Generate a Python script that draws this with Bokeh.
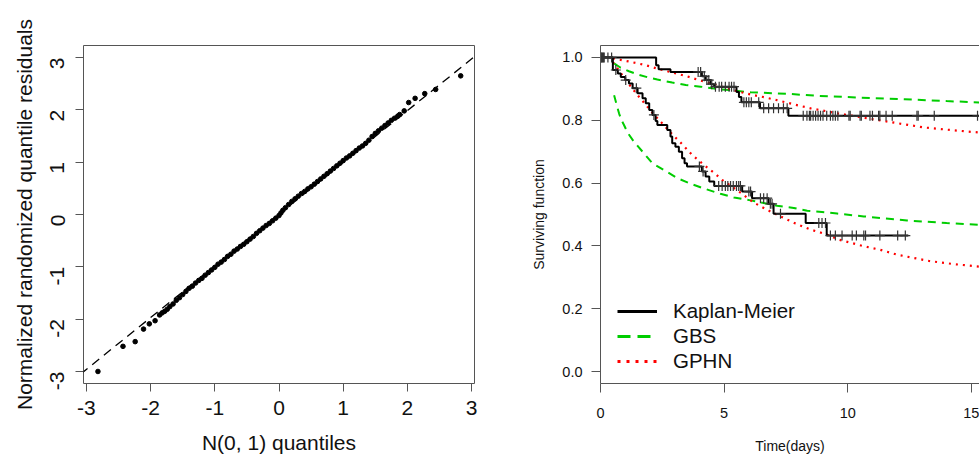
import math
import numpy as np
from bokeh.plotting import figure
from bokeh.layouts import row
from bokeh.models import FixedTicker, Range1d, Legend, LegendItem, LinearAxis, Slope
from bokeh.embed import file_html
from bokeh.resources import INLINE

FONT = "Liberation Sans"
FRAME = "#555555"
TXT = "#111111"

# ---------------- left panel: QQ plot of residuals ----------------
qq_theoretical = [-2.82, -2.43, -2.24, -2.11, -2.02, -1.93, -1.86, -1.82, -1.78, -1.74,
                  -1.70, -1.65, -1.60, -1.55, -1.50, -1.45, -1.40, -1.35, -1.30, -1.25,
                  -1.20, -1.15, -1.10, -1.05, -1.00, -0.95, -0.90, -0.85, -0.80, -0.75,
                  -0.70, -0.65, -0.60, -0.55, -0.50, -0.45, -0.40, -0.35, -0.30, -0.25,
                  -0.20, -0.15, -0.10, -0.05, 0.00, 0.03, 0.06, 0.10, 0.15, 0.20,
                  0.25, 0.30, 0.35, 0.40, 0.45, 0.50, 0.55, 0.60, 0.65, 0.70,
                  0.75, 0.80, 0.85, 0.90, 0.95, 1.00, 1.05, 1.10, 1.15, 1.20,
                  1.25, 1.30, 1.35, 1.40, 1.45, 1.50, 1.55, 1.60, 1.65, 1.70,
                  1.75, 1.80, 1.85, 1.88, 1.95, 2.02, 2.12, 2.27, 2.44, 2.83]
qq_residual = [-3.00, -2.52, -2.43, -2.19, -2.09, -2.03, -1.92, -1.88, -1.85, -1.81,
               -1.76, -1.71, -1.64, -1.59, -1.53, -1.47, -1.41, -1.37, -1.31, -1.26,
               -1.22, -1.16, -1.11, -1.06, -1.01, -0.95, -0.91, -0.86, -0.80, -0.76,
               -0.70, -0.66, -0.61, -0.57, -0.52, -0.47, -0.42, -0.36, -0.31, -0.26,
               -0.21, -0.17, -0.12, -0.07, -0.02, 0.03, 0.08, 0.13, 0.19, 0.25,
               0.30, 0.35, 0.40, 0.44, 0.49, 0.53, 0.58, 0.63, 0.68, 0.73,
               0.78, 0.83, 0.88, 0.93, 0.98, 1.03, 1.08, 1.12, 1.17, 1.22,
               1.27, 1.31, 1.36, 1.42, 1.49, 1.55, 1.60, 1.65, 1.70, 1.75,
               1.80, 1.84, 1.88, 1.91, 1.98, 2.14, 2.22, 2.31, 2.39, 2.65]
qqline_slope = 0.989
qqline_intercept = 0.007
left_ticks = [-3, -2, -1, 0, 1, 2, 3]
left_tick_labels = ["-3", "-2", "-1", "0", "1", "2", "3"]

# ---------------- right panel: survival curves ----------------
km_upper_t = [0, 2.25, 2.35, 2.83, 4.1, 4.25, 4.45, 4.6, 5.5, 5.6, 5.7, 6.45, 7.6, 15.6]
km_upper_s = [1.0, 0.975, 0.962, 0.954, 0.94, 0.928, 0.915, 0.907, 0.89, 0.874, 0.857, 0.838, 0.814, 0.814]
km_lower_t = [0, 0.5, 0.7, 0.82, 1.0, 1.15, 1.3, 1.5, 1.7, 1.83, 1.97, 2.1, 2.23, 2.3, 2.7,
              2.83, 2.9, 3.03, 3.17, 3.3, 3.4, 3.5, 4.1, 4.25, 4.4, 4.6, 5.73, 6.13, 6.8,
              7.0, 8.3, 9.15, 12.45]
km_lower_s = [1.0, 0.96, 0.949, 0.938, 0.928, 0.917, 0.902, 0.886, 0.87, 0.854, 0.833, 0.817,
              0.798, 0.785, 0.769, 0.748, 0.727, 0.716, 0.70, 0.679, 0.663, 0.653, 0.637,
              0.621, 0.605, 0.591, 0.573, 0.552, 0.534, 0.502, 0.473, 0.433, 0.433]
cens_upper = [0.03, 0.08, 0.15, 0.3, 3.95, 4.05, 4.2, 4.3, 4.38, 4.5, 4.65, 4.8, 4.9, 5.05,
              5.2, 5.3, 5.4, 5.8, 5.9, 6.0, 6.1, 6.4, 6.6, 6.8, 7.0, 7.2, 7.4, 7.55, 8.2,
              8.35, 8.45, 8.5, 8.6, 8.7, 8.8, 8.9, 9.0, 9.15, 9.3, 9.4, 9.5, 9.6, 10.05,
              10.1, 10.5, 10.55, 10.9, 11.0, 11.25, 11.3, 11.55, 11.8, 12.8, 12.85, 13.5, 15.25]
cens_lower = [0.05, 0.12, 0.45, 0.62, 1.02, 1.45, 2.16, 4.0, 4.15, 4.78, 4.92, 5.05, 5.15,
              5.26, 5.37, 5.5, 5.59, 5.66, 6.0, 6.07, 6.47, 6.6, 6.74, 6.87, 6.94, 7.28,
              8.83, 8.96, 9.1, 9.3, 9.5, 9.77, 10.18, 10.35, 10.65, 10.72, 11.3, 12.02, 12.33]

gbs_upper_t = [0.55, 0.8, 1.15, 1.5, 1.9, 2.3, 2.9, 3.45, 4.05, 4.7, 5.2, 6.07, 7.0, 7.6,
               8.76, 10.5, 12.3, 14.0, 15.6]
gbs_upper_s = [0.981, 0.968, 0.956, 0.946, 0.937, 0.930, 0.920, 0.912, 0.907, 0.900, 0.896,
               0.889, 0.886, 0.884, 0.878, 0.872, 0.867, 0.861, 0.856]
gbs_lower_t = [0.55, 0.65, 0.75, 0.85, 0.95, 1.1, 1.35, 1.7, 2.1, 2.56, 3.1, 3.64, 4.25,
               4.85, 5.4, 6.07, 7.14, 7.82, 8.36, 8.96, 9.57, 10.65, 12.4, 14.0, 15.6]
gbs_lower_s = [0.88, 0.85, 0.822, 0.80, 0.785, 0.76, 0.732, 0.70, 0.663, 0.642, 0.616, 0.598,
               0.581, 0.566, 0.554, 0.545, 0.528, 0.521, 0.512, 0.508, 0.503, 0.494, 0.481,
               0.473, 0.466]
gphn_upper_t = [0.5, 1.15, 1.8, 2.4, 2.9, 3.5, 3.9, 4.5, 5.0, 5.5, 6.07, 6.7, 7.3, 7.9, 8.5,
                9.6, 10.8, 11.9, 13.1, 14.3, 15.6]
gphn_upper_s = [0.997, 0.987, 0.976, 0.962, 0.952, 0.940, 0.930, 0.916, 0.905, 0.893, 0.882,
                0.872, 0.861, 0.849, 0.838, 0.822, 0.806, 0.792, 0.777, 0.768, 0.759]
gphn_lower_t = [0.5, 0.75, 1.0, 1.25, 1.5, 1.9, 2.16, 2.5, 2.83, 3.3, 3.7, 4.18, 4.65, 4.92,
                5.6, 6.2, 6.74, 7.28, 7.89, 8.49, 9.1, 9.64, 10.65, 11.3, 12.0, 13.3, 14.3, 15.6]
gphn_lower_s = [0.985, 0.958, 0.93, 0.905, 0.88, 0.843, 0.818, 0.79, 0.761, 0.724, 0.69, 0.658,
                0.629, 0.61, 0.573, 0.538, 0.515, 0.494, 0.471, 0.452, 0.438, 0.42, 0.399,
                0.388, 0.372, 0.352, 0.342, 0.332]
right_xticks = [0, 5, 10, 15]
right_yticks = [0.0, 0.2, 0.4, 0.6, 0.8, 1.0]
legend_labels = ["Kaplan-Meier", "GBS", "GPHN"]

GREEN = "#00CD00"
RED = "#FF0000"


def style_axis(ax, size, tick_len):
    ax.axis_line_color = None
    ax.major_tick_line_color = FRAME
    ax.major_tick_out = tick_len
    ax.major_tick_in = 0
    ax.minor_tick_line_color = None
    ax.major_label_text_font = FONT
    ax.major_label_text_font_size = size
    ax.major_label_text_color = TXT
    ax.axis_label_text_font = FONT
    ax.axis_label_text_font_style = "normal"
    ax.axis_label_text_color = TXT


# ---- left figure
p1 = figure(width=528, height=456, output_backend="svg", toolbar_location=None,
            x_range=Range1d(-3.045, 3.045), y_range=Range1d(-3.23, 3.23),
            min_border_left=83, min_border_right=54, min_border_top=45, min_border_bottom=72)
p1.grid.visible = False
p1.outline_line_color = FRAME
p1.outline_line_width = 1
p1.background_fill_color = "white"
p1.border_fill_color = "white"
p1.add_layout(Slope(gradient=qqline_slope, y_intercept=qqline_intercept,
                    line_color="black", line_width=1.3, line_dash="9 6"))
p1.scatter(qq_theoretical, qq_residual, size=4.6, color="black")
for ax in (p1.xaxis[0], p1.yaxis[0]):
    style_axis(ax, "21px", 8)
    ax.ticker = FixedTicker(ticks=left_ticks)
    ax.major_label_overrides = dict(zip(left_ticks, left_tick_labels))
p1.xaxis[0].axis_label = "N(0, 1) quantiles"
p1.xaxis[0].axis_label_text_font_size = "21px"
p1.xaxis[0].major_label_standoff = 9
p1.xaxis[0].axis_label_standoff = 13
p1.yaxis[0].axis_label = "Normalized randomized quantile residuals"
p1.yaxis[0].axis_label_text_font_size = "21px"
p1.yaxis[0].major_label_orientation = math.pi / 2
p1.yaxis[0].major_label_standoff = 18
p1.yaxis[0].axis_label_standoff = 5

# ---- right figure
p2 = figure(width=451, height=456, output_backend="svg", toolbar_location=None,
            x_range=Range1d(0, 15.33), y_range=Range1d(-0.038, 1.038),
            min_border_left=72, min_border_right=0, min_border_top=45, min_border_bottom=72)
p2.grid.visible = False
p2.outline_line_color = None
p2.background_fill_color = "white"
p2.border_fill_color = "white"

p2.line(gbs_upper_t, gbs_upper_s, line_color=GREEN, line_width=2, line_dash="8 6")
p2.line(gbs_lower_t, gbs_lower_s, line_color=GREEN, line_width=2, line_dash="8 6")
p2.line(gphn_upper_t, gphn_upper_s, line_color=RED, line_width=2.2, line_dash="2 5")
p2.line(gphn_lower_t, gphn_lower_s, line_color=RED, line_width=2.2, line_dash="2 5")
p2.step(km_upper_t, km_upper_s, mode="after", line_color="black", line_width=2)
p2.step(km_lower_t, km_lower_s, mode="after", line_color="black", line_width=2)


def surv_at(times, surv, pts):
    t = np.asarray(times)
    s = np.asarray(surv)
    idx = np.searchsorted(t, np.asarray(pts), side="right") - 1
    return s[idx]


p2.scatter(cens_upper, surv_at(km_upper_t, km_upper_s, cens_upper), marker="cross",
           size=10, line_color="#333333", line_width=1.2)
p2.scatter(cens_lower, surv_at(km_lower_t, km_lower_s, cens_lower), marker="cross",
           size=10, line_color="#333333", line_width=1.2)

for ax in (p2.xaxis[0], p2.yaxis[0]):
    style_axis(ax, "14.5px", 9)
    ax.axis_line_color = FRAME
p2.xaxis[0].ticker = FixedTicker(ticks=right_xticks)
p2.yaxis[0].ticker = FixedTicker(ticks=right_yticks)
p2.yaxis[0].major_label_overrides = {v: f"{v:.1f}" for v in right_yticks}
p2.xaxis[0].axis_label = "Time(days)"
p2.xaxis[0].axis_label_text_font_size = "14px"
p2.xaxis[0].major_label_standoff = 15
p2.xaxis[0].axis_label_standoff = 17
p2.yaxis[0].axis_label = "Surviving function"
p2.yaxis[0].axis_label_text_font_size = "14px"
p2.yaxis[0].major_label_standoff = 9
p2.yaxis[0].axis_label_standoff = 12

top_axis = LinearAxis(ticker=FixedTicker(ticks=[]), axis_line_color=FRAME,
                      major_tick_line_color=None, minor_tick_line_color=None,
                      major_label_text_font_size="0px")
p2.add_layout(top_axis, "above")

# legend keys drawn with their own (thicker) line styles; the renderers hold no visible data
nan_pt = [float("nan")]
lg_km = p2.line(nan_pt, nan_pt, line_color="black", line_width=3)
lg_gbs = p2.line(nan_pt, nan_pt, line_color=GREEN, line_width=3, line_dash="13 7")
lg_gphn = p2.line(nan_pt, nan_pt, line_color=RED, line_width=3, line_dash="3 6")
legend = Legend(items=[LegendItem(label=legend_labels[0], renderers=[lg_km]),
                       LegendItem(label=legend_labels[1], renderers=[lg_gbs]),
                       LegendItem(label=legend_labels[2], renderers=[lg_gphn])],
                location=(17, 10), padding=0, margin=0, spacing=1,
                glyph_width=40, glyph_height=24, label_height=24, label_standoff=16,
                label_text_font=FONT, label_text_font_size="20.5px",
                label_text_color=TXT, border_line_color=None, background_fill_alpha=0)
p2.add_layout(legend, "center")

layout = row(p1, p2)
open("out.html", "w").write(file_html(layout, INLINE))
